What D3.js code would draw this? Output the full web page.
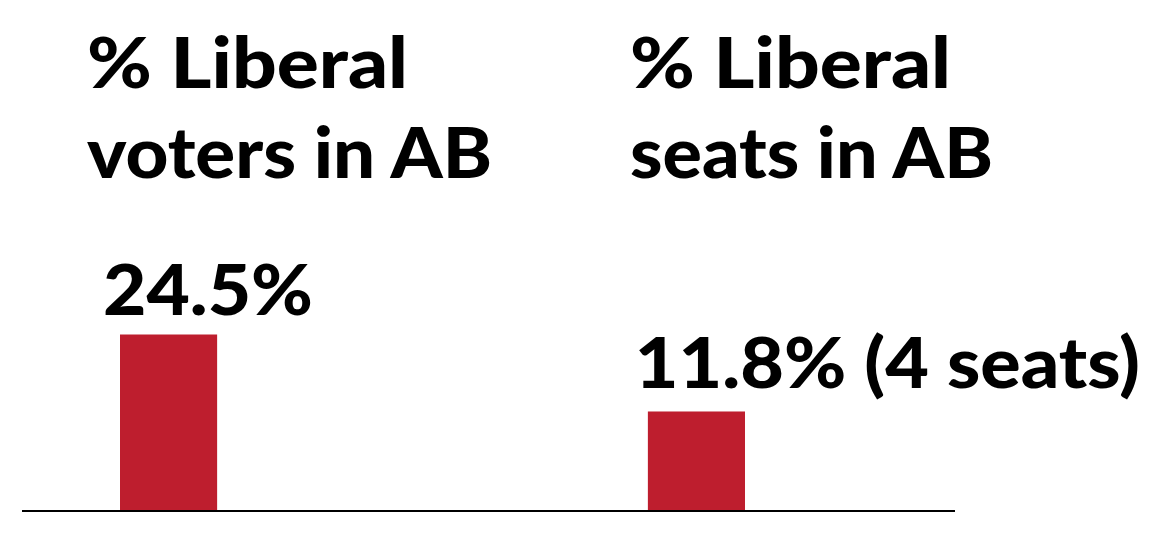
<!DOCTYPE html>
<html><head><meta charset="utf-8">
<script src="https://cdn.jsdelivr.net/npm/d3@7"></script>
<style>
html,body{margin:0;padding:0;background:#fff;}
text{font-family:Lato,"Open Sans",sans-serif;font-weight:900;fill:#000;}
</style></head>
<body>
<svg id="chart" width="1153" height="551"></svg>
<script>
const categories = ["voters", "seats"];
const titleLines = [["% Liberal", "voters in AB"], ["% Liberal", "seats in AB"]];
const values = [24.5, 11.8];
const valueLabels = ["24.5%", "11.8% (4 seats)"];

const svg = d3.select("#chart");
const color = "#be1e2e";

const x = d3.scaleBand().domain(categories).range([120, 745]).paddingInner(0.816).paddingOuter(0);
const y = d3.scaleLinear().domain([-4.45, 24.5]).range([510, 334.5]);

svg.append("line").attr("x1", 22).attr("x2", 955)
  .attr("y1", y(-4.45) + 1).attr("y2", y(-4.45) + 1)
  .attr("stroke", "#000").attr("stroke-width", 2);

svg.selectAll("rect.bar").data(values).join("rect")
  .attr("class", "bar")
  .attr("x", (d, i) => x(categories[i]))
  .attr("width", x.bandwidth())
  .attr("y", d => y(d))
  .attr("height", d => y(-4.45) - y(d))
  .attr("fill", color);

const fs = 70;
const titleX = [87, 630];
const titleW = [[321, 405], [321, 363]];
titleLines.forEach((lines, i) => {
  lines.forEach((ln, j) => {
    svg.append("text").attr("x", titleX[i]).attr("y", 88 + j * 90)
      .attr("font-size", fs)
      .attr("textLength", titleW[i][j]).attr("lengthAdjust", "spacingAndGlyphs")
      .text(ln);
  });
});

const valW = [210, 505];
svg.selectAll("text.val").data(values).join("text")
  .attr("class", "val")
  .attr("x", (d, i) => x(categories[i]) - [17, 13][i])
  .attr("y", (d, i) => y(d) - [19.5, 23.5][i])
  .attr("font-size", fs)
  .attr("textLength", (d, i) => valW[i]).attr("lengthAdjust", "spacingAndGlyphs")
  .text((d, i) => valueLabels[i]);
</script>
</body></html>
